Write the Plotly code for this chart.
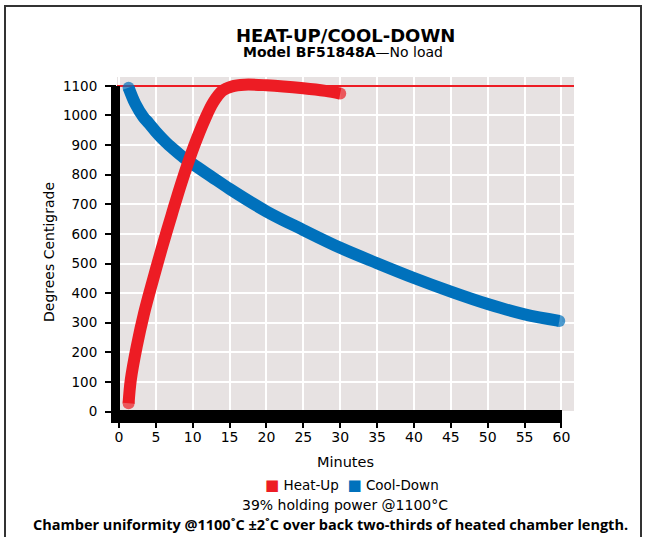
import plotly.graph_objects as go

# ---- data ----
heat_t = [1.3, 1.6, 2.4, 3.4, 4.6, 5.8, 7.15, 8.5, 10.2, 11.7, 12.8, 14.0, 15.3, 17.0, 20.0, 25.0, 28.0, 30.0]
heat_T = [28, 107, 219, 332, 444, 551, 665, 775, 898, 990, 1045, 1083, 1098, 1104, 1102, 1092, 1083, 1074]

cool_t = [1.3, 2.2, 3.3, 4.0, 5.0, 6.25, 7.5, 8.75, 10.0, 12.5, 15.0, 20.0, 25.0, 30.0, 35.0, 40.0, 45.0, 50.0, 55.0, 59.7]
cool_T = [1094, 1040, 995, 975, 945, 912, 884, 858, 836, 794, 752, 676, 613, 553, 501, 451, 405, 363, 328, 306]

SETPOINT = 1100
x_ticks = list(range(0, 61, 5))
y_ticks = list(range(0, 1101, 100))
X_RANGE = [-0.27, 61.7]
Y_RANGE = [-5, 1130]

series_names = ["Heat-Up", "Cool-Down"]
RED = "#ED1C24"
BLUE = "#0071BC"
FONT = "DejaVu Sans"
LW = 12

def cap_sizes(n, w):
    return [w] + [0] * (n - 2) + [w]

fig = go.Figure()

# setpoint line
fig.add_trace(go.Scatter(x=X_RANGE, y=[SETPOINT, SETPOINT], mode="lines",
                         line=dict(color=RED, width=2), showlegend=False, hoverinfo="skip"))

fig.add_trace(go.Scatter(x=cool_t, y=cool_T, mode="lines+markers", name=series_names[1],
                         line=dict(color=BLUE, width=LW, shape="spline", smoothing=1.0),
                         marker=dict(size=cap_sizes(len(cool_t), LW), color=BLUE, line=dict(width=0)),
                         showlegend=False))
fig.add_trace(go.Scatter(x=heat_t, y=heat_T, mode="lines+markers", name=series_names[0],
                         line=dict(color=RED, width=LW, shape="spline", smoothing=1.0),
                         marker=dict(size=cap_sizes(len(heat_t), LW), color=RED, line=dict(width=0)),
                         showlegend=False))

W, H, L, B = 457, 336, 117, 413  # plot geometry in pixels (used for paper-coordinate decorations)
def px(x):
    return (x - L) / W
def py(y):
    return (B - y) / H

shapes = [
    # thick black axis bars
    dict(type="rect", xref="paper", yref="paper", x0=px(111), x1=px(120), y0=py(423), y1=py(86),
         fillcolor="black", line=dict(width=0), layer="above"),
    dict(type="rect", xref="paper", yref="paper", x0=px(111), x1=px(562), y0=py(423), y1=py(410),
         fillcolor="black", line=dict(width=0), layer="above"),
    # frame
    dict(type="rect", xref="paper", yref="paper", x0=px(5), x1=px(641), y0=py(560), y1=py(6),
         fillcolor="rgba(0,0,0,0)", line=dict(color="#333333", width=2), layer="below"),
]

NB = "\u00a0"
legend_text = (f"<span style='color:{RED};font-size:15px'>■</span>{NB}{series_names[0]}{NB}{NB}"
               f"<span style='color:{BLUE};font-size:15px'>■</span>{NB}{series_names[1]}")

annotations = [
    dict(text="<b>HEAT-UP/COOL-DOWN</b>", x=px(345), y=py(35), xref="paper", yref="paper",
         showarrow=False, xanchor="center", yanchor="middle", font=dict(family=FONT, size=18, color="black")),
    dict(text="<b>Model BF51848A</b>—No load", x=px(343), y=py(52), xref="paper", yref="paper",
         showarrow=False, xanchor="center", yanchor="middle", font=dict(family=FONT, size=14, color="black")),
    dict(text="Degrees Centigrade", x=px(49), y=py(252), xref="paper", yref="paper", textangle=-90,
         showarrow=False, xanchor="center", yanchor="middle", font=dict(family=FONT, size=14, color="black")),
    dict(text=legend_text, x=px(352), y=py(485), xref="paper", yref="paper",
         showarrow=False, xanchor="center", yanchor="middle", font=dict(family=FONT, size=13.5, color="black")),
    dict(text="39% holding power @1100°C", x=px(345), y=py(505), xref="paper", yref="paper",
         showarrow=False, xanchor="center", yanchor="middle", font=dict(family=FONT, size=14, color="black")),
    dict(text="<b>Chamber uniformity @1100˚C ±2˚C over back two-thirds of heated chamber length.</b>",
         x=px(330.5), y=py(524), xref="paper", yref="paper",
         showarrow=False, xanchor="center", yanchor="middle", font=dict(family="Open Sans", size=14.5, color="black")),
]

fig.update_layout(
    width=646, height=537,
    margin=dict(l=L, r=646 - L - W, t=B - H, b=537 - B, pad=0, autoexpand=False),
    paper_bgcolor="white", plot_bgcolor="#E7E2E2",
    font=dict(family=FONT, size=14, color="black"),
    shapes=shapes, annotations=annotations,
    showlegend=False,
)

fig.update_xaxes(range=X_RANGE, tickvals=x_ticks, ticktext=[str(v) for v in x_ticks],
                 showgrid=True, gridcolor="white", gridwidth=2, zeroline=False,
                 ticks="outside", ticklen=14, tickwidth=2, tickcolor="black",
                 tickfont=dict(family=FONT, size=14), ticklabelstandoff=-3,
                 title=dict(text="Minutes", font=dict(family=FONT, size=14.5), standoff=13))
fig.update_yaxes(range=Y_RANGE, tickvals=y_ticks, ticktext=[str(v) for v in y_ticks],
                 showgrid=True, gridcolor="white", gridwidth=2, zeroline=False,
                 ticks="outside", ticklen=11, tickwidth=2, tickcolor="black",
                 tickfont=dict(family=FONT, size=13.5), ticklabelstandoff=5)

fig.write_html("out.html", config={"displayModeBar": False},
               post_script="document.body.style.margin='0px';document.body.style.overflow='hidden';")
